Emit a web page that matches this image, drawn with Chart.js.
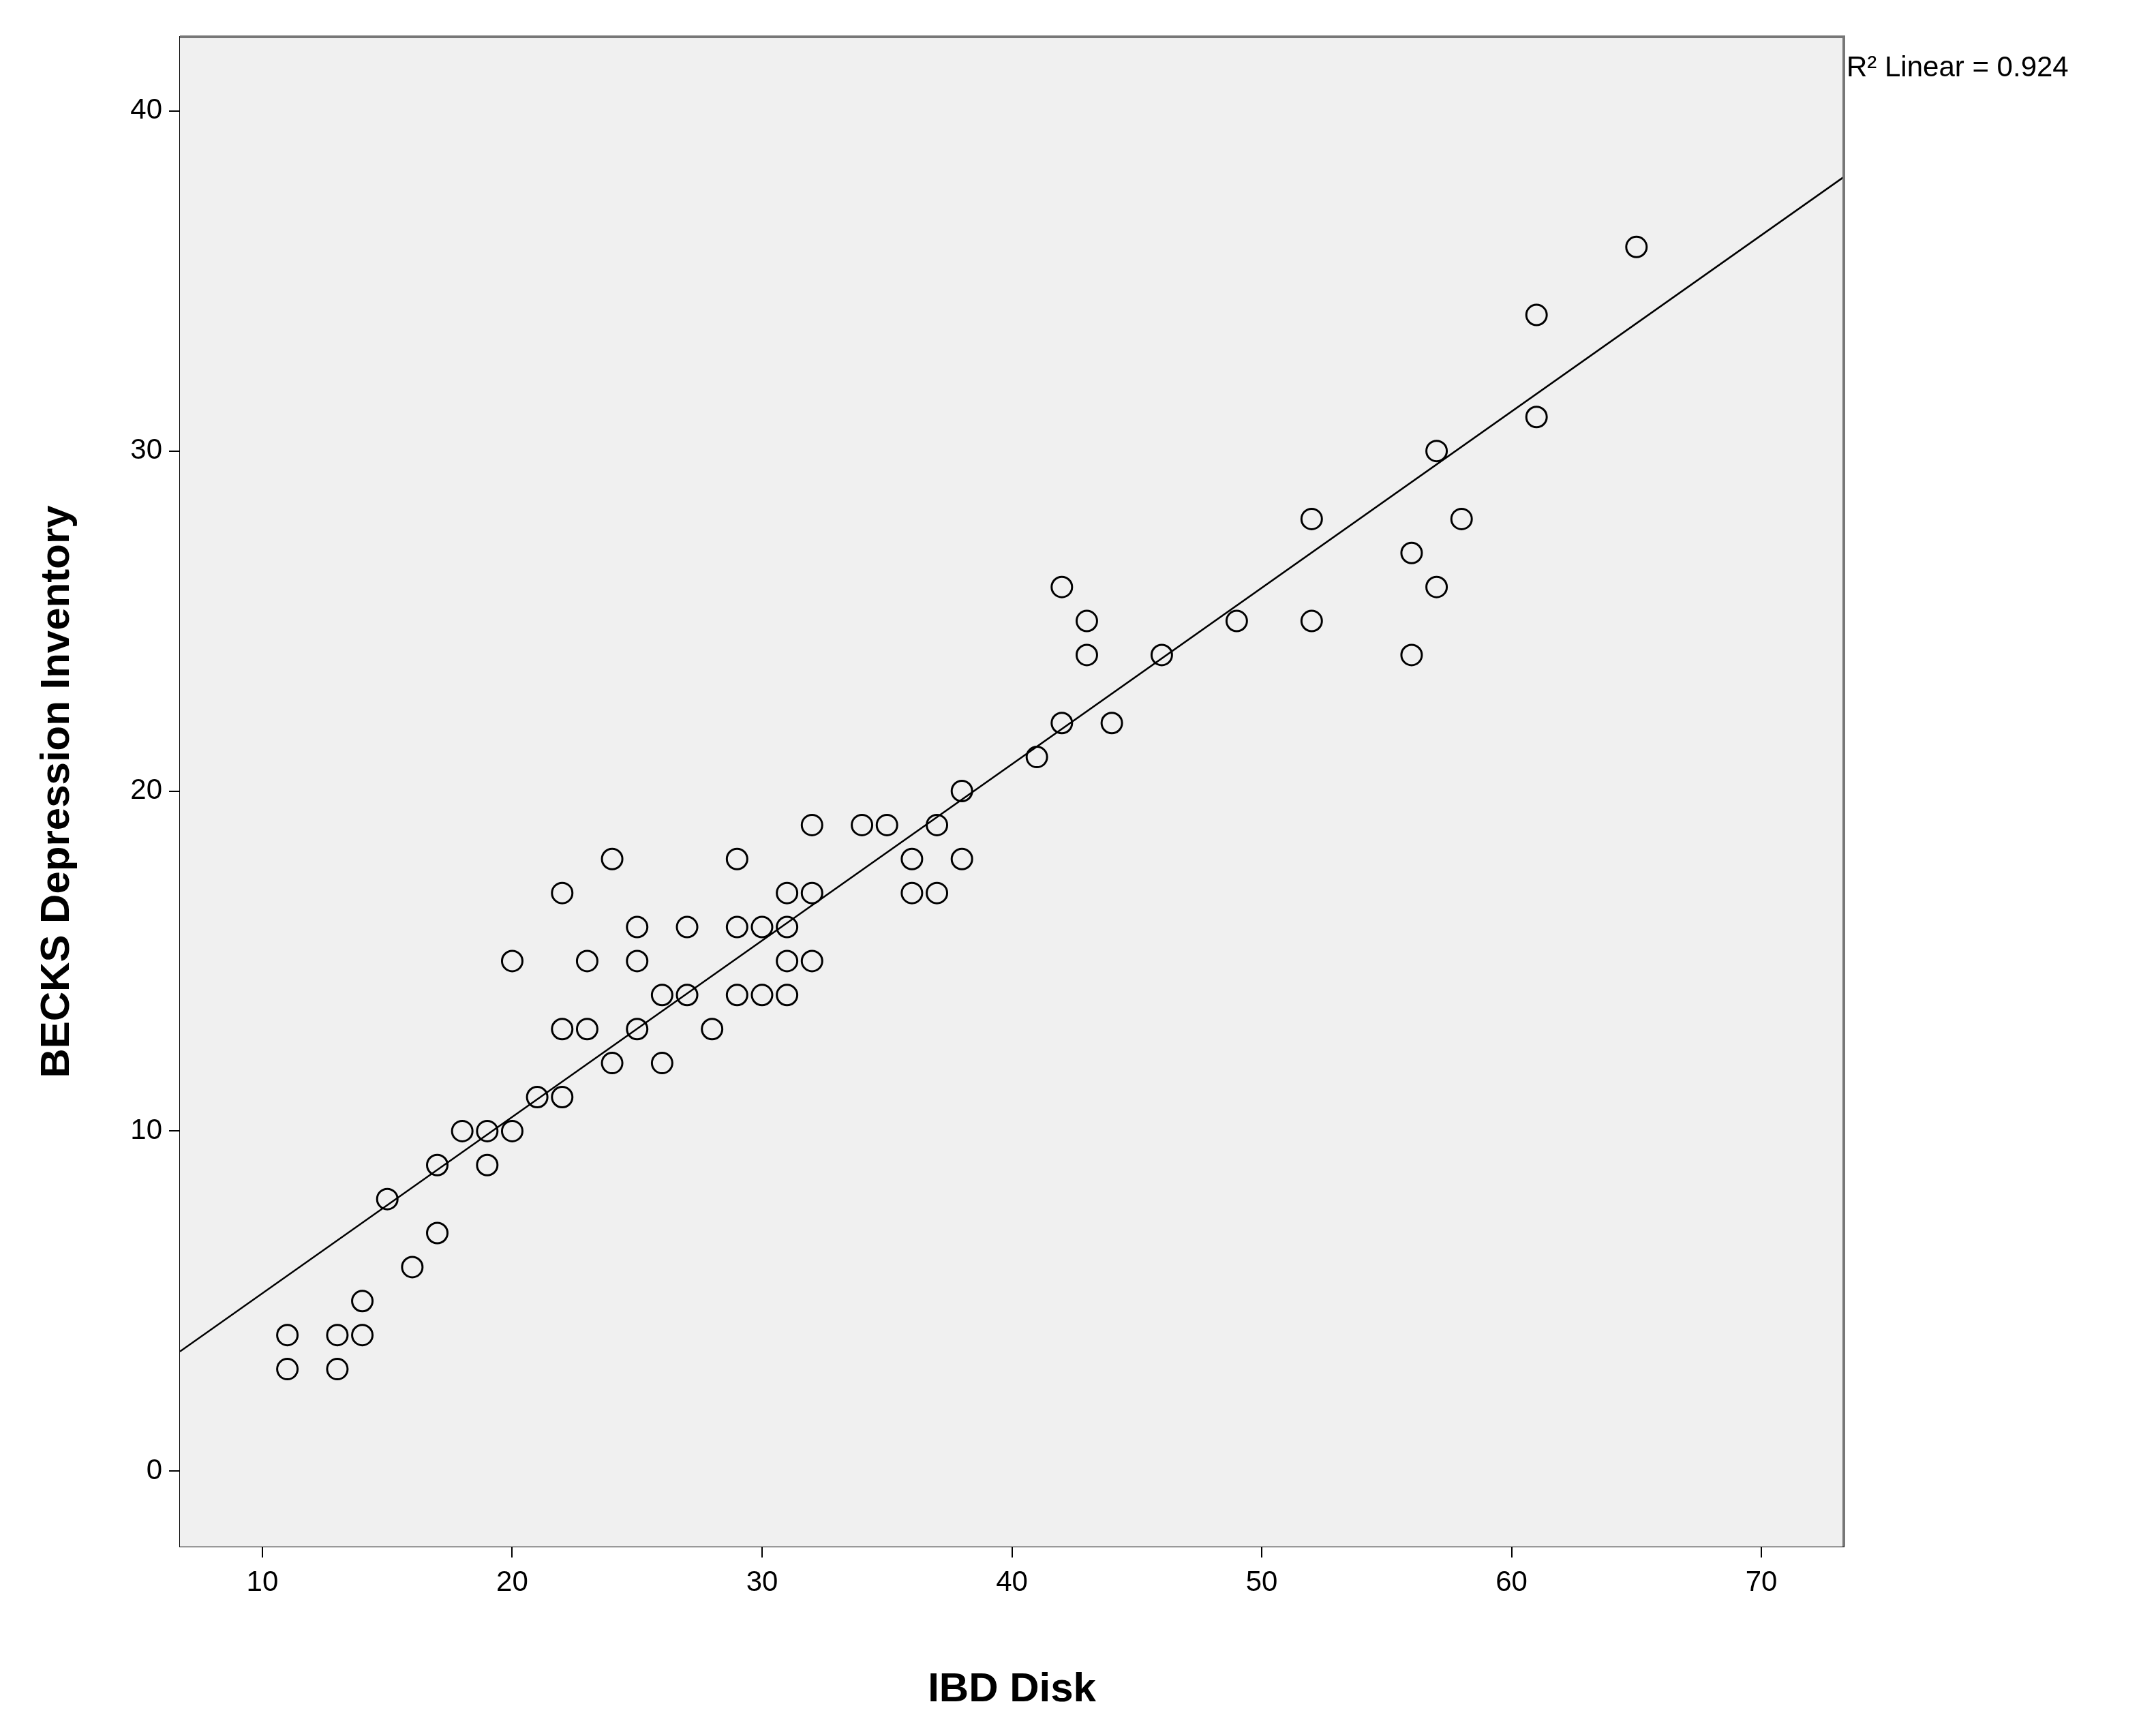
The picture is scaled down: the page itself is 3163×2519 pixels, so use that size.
<!DOCTYPE html>
<html><head><meta charset="utf-8">
<script src="https://cdn.jsdelivr.net/npm/chart.js@4"></script>
<style>html,body{margin:0;padding:0;background:#fff}#wrap{width:3163px;height:2519px}</style>
</head><body><div id="wrap"><canvas id="c"></canvas></div>
<script>
const ibdDisk = [11,11,13,13,14,14,15,16,17,17,18,19,19,20,20,21,22,22,22,23,23,24,24,25,25,25,26,26,27,27,28,29,29,29,30,30,31,31,31,31,32,32,32,34,35,36,36,37,37,38,38,41,42,42,43,43,44,46,49,52,52,56,56,57,57,58,61,61,65];
const becks   = [4,3,4,3,5,4,8,6,9,7,10,10,9,15,10,11,17,13,11,15,13,18,12,16,15,13,14,12,16,14,13,18,16,14,16,14,17,16,15,14,19,17,15,19,19,18,17,19,17,20,18,21,26,22,25,24,22,24,25,28,25,27,24,30,26,28,34,31,36];
const fitX = [6.7, 73.3];
const fitSlope = 0.5186, fitIntercept = 0.045;
const xTicks = [10,20,30,40,50,60,70];
const yTicks = [0,10,20,30,40];
const rLabel = 'R² Linear = 0.924';

const pts = ibdDisk.map((x,i)=>({x, y: becks[i]}));
const line = fitX.map(x=>({x, y: fitIntercept + fitSlope*x}));
const F = 'Liberation Sans, Arial, sans-serif';

const bg = {id:'bg', beforeDatasetsDraw(ch){const a=ch.chartArea,c=ch.ctx;c.save();c.fillStyle='#f0f0f0';c.fillRect(a.left,a.top,a.right-a.left,a.bottom-a.top);c.restore();},
 afterDraw(ch){const a=ch.chartArea,c=ch.ctx;c.save();c.strokeStyle='#777';c.lineWidth=4;
  c.beginPath();c.moveTo(a.left,a.top);c.lineTo(a.right,a.top);c.lineTo(a.right,a.bottom);c.stroke();
  c.fillStyle='#000';c.font='42px '+F;c.textBaseline='alphabetic';c.fillText(rLabel,a.right+4,112);c.restore();}};

new Chart(document.getElementById('c'),{
 type:'scatter',
 data:{datasets:[
  {data:line,type:'line',borderColor:'#000',borderWidth:2.5,pointRadius:0,fill:false,order:2},
  {data:pts,pointRadius:15,pointHoverRadius:15,backgroundColor:'rgba(0,0,0,0)',borderColor:'#000',borderWidth:3,order:1}
 ]},
 options:{responsive:true,maintainAspectRatio:false,animation:false,
  layout:{padding:{left:0,top:54,right:458,bottom:0}},
  plugins:{legend:{display:false},tooltip:{enabled:false}},
  scales:{
   x:{type:'linear',min:6.7,max:73.3,afterBuildTicks(s){s.ticks=xTicks.map(v=>({value:v}));},
     afterFit(s){s.height=250;},
     grid:{display:true,drawOnChartArea:false,drawTicks:true,tickLength:16,color:'#000',lineWidth:2},
     border:{display:true,color:'#000',width:2},
     ticks:{color:'#000',font:{family:F,size:42},padding:12,maxRotation:0},
     title:{display:true,text:'IBD Disk',color:'#000',font:{family:F,size:60,weight:'bold'},padding:{top:18}}},
   y:{type:'linear',min:-2.22,max:42.18,afterBuildTicks(s){s.ticks=yTicks.map(v=>({value:v}));},
     afterFit(s){s.width=264;},
     grid:{display:true,drawOnChartArea:false,drawTicks:true,tickLength:16,color:'#000',lineWidth:2},
     border:{display:true,color:'#000',width:2},
     ticks:{color:'#000',font:{family:F,size:42},padding:10},
     title:{display:true,text:'BECKS Depression Inventory',color:'#000',font:{family:F,size:60,weight:'bold'},padding:{top:48,bottom:0}}}
  }},
 plugins:[bg]
});
</script></body></html>
